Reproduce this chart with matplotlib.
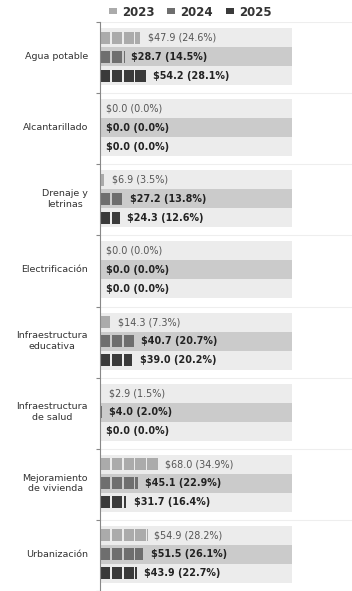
import matplotlib
matplotlib.use("Agg")
import matplotlib.pyplot as plt
from matplotlib.patches import Rectangle, Patch
import numpy as np

categories = ["Agua potable", "Alcantarillado", "Drenaje y\nletrinas", "Electrificación",
              "Infraestructura\neducativa", "Infraestructura\nde salud",
              "Mejoramiento\nde vivienda", "Urbanización"]
years = ["2023", "2024", "2025"]
values_2023 = [47.9, 0.0, 6.9, 0.0, 14.3, 2.9, 68.0, 54.9]
values_2024 = [28.7, 0.0, 27.2, 0.0, 40.7, 4.0, 45.1, 51.5]
values_2025 = [54.2, 0.0, 24.3, 0.0, 39.0, 0.0, 31.7, 43.9]
pct_2023 = [24.6, 0.0, 3.5, 0.0, 7.3, 1.5, 34.9, 28.2]
pct_2024 = [14.5, 0.0, 13.8, 0.0, 20.7, 2.0, 22.9, 26.1]
pct_2025 = [28.1, 0.0, 12.6, 0.0, 20.2, 0.0, 16.4, 22.7]

series_vals = [values_2023, values_2024, values_2025]
series_pct = [pct_2023, pct_2024, pct_2025]
bar_colors = ["#ababab", "#6e6e6e", "#3a3a3a"]
band_colors = ["#ececec", "#cbcbcb", "#ececec"]
label_colors = ["#555555", "#222222", "#222222"]
label_weights = ["normal", "bold", "bold"]

W, H = 352, 591
fig = plt.figure(figsize=(W / 100, H / 100), dpi=100)
ax_left, ax_top, ax_right, ax_bottom = 100, 22, 352, 591
ax = fig.add_axes([ax_left / W, 1 - ax_bottom / H, (ax_right - ax_left) / W, (ax_bottom - ax_top) / H])

px_per_unit = 0.87
xmax = (ax_right - ax_left) / px_per_unit
band_end = (292 - ax_left) / px_per_unit
block = 13.6           # value units per square block
gap = 1.6 / px_per_unit

n = len(categories)
ax.set_xlim(0, xmax)
ax.set_ylim(n, 0)

grp = 71.1
for i in range(n):
    for j in range(3):
        y0 = i + (6 + 19 * j) / grp
        band_h = 19 / grp
        ax.add_patch(Rectangle((0, y0), band_end, band_h, facecolor=band_colors[j], edgecolor="none", zorder=1))
        v = series_vals[j][i]
        bh = 12 / grp
        yc = y0 + band_h / 2
        x = 0.0
        while x < v - 1e-9:
            w = min(block, v - x)
            ww = w - gap if w > gap * 1.5 else w
            ax.add_patch(Rectangle((x, yc - bh / 2), ww, bh, facecolor=bar_colors[j], edgecolor="none", zorder=2))
            x += block
        ax.text(v + 6 / px_per_unit, yc, f"${v:.1f} ({series_pct[j][i]:.1f}%)",
                va="center", ha="left", fontsize=6.9, color=label_colors[j],
                fontweight=label_weights[j], zorder=3)
    ax.text(-12 / px_per_unit, i + 0.5 - 1 / grp, categories[i], ha="right", va="center",
            fontsize=6.8, color="#333333", multialignment="center")

for i in range(n + 1):
    ax.axhline(i, color="#eeeeee", lw=0.8, zorder=0)

ax.set_yticks(np.arange(n + 1))
ax.set_yticklabels([])
ax.tick_params(axis="y", length=3, width=0.8, color="#888888")
ax.set_xticks([])
for s in ["top", "right", "bottom"]:
    ax.spines[s].set_visible(False)
ax.spines["left"].set_color("#888888")
ax.spines["left"].set_linewidth(0.8)
ax.patch.set_alpha(0)

handles = [Patch(facecolor=c, edgecolor="none") for c in bar_colors]
fig.legend(handles, years, loc="center", bbox_to_anchor=(190 / W, 1 - 12 / H), ncol=3,
           frameon=False, handlelength=0.7, handleheight=0.45,
           handletextpad=0.4, columnspacing=1.1, labelcolor="#333333",
           prop={"weight": "bold", "size": 8.5})

fig.savefig("out.png", dpi=100)
